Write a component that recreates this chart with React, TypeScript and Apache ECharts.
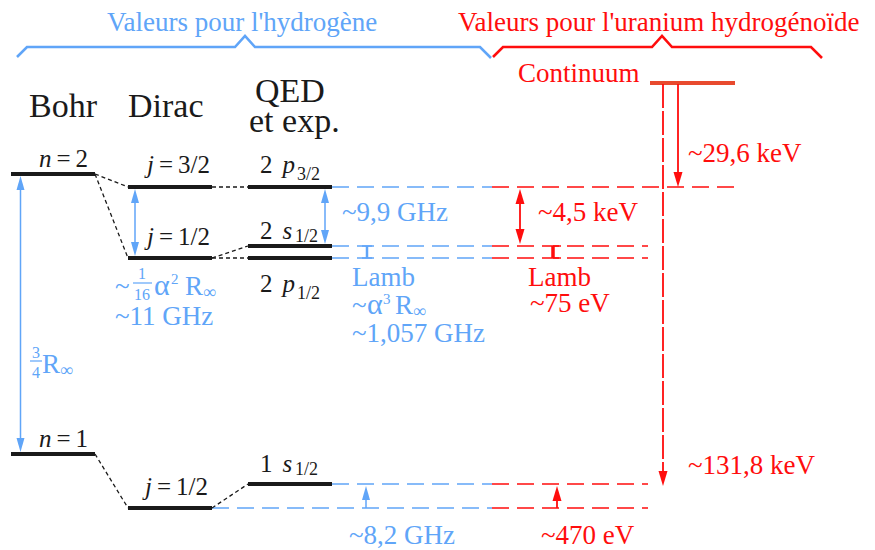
import React, { useEffect, useRef } from "react";
import * as echarts from "echarts";

const BLUE = "#60a5f8";
const RED = "#ff0d0d";
const BLACK = "#1a1a1a";
const CONT = "#e84a2e";
const SERIF = "Liberation Serif, Times New Roman, serif";

// Column headers
const headerText = ["Bohr", "Dirac", "QED", "et exp."];
const headerX = [29, 128, 255, 249];
const headerBase = [117, 117, 102, 132];

// Group titles and braces
const titleText = ["Valeurs pour l'hydrogène", "Valeurs pour l'uranium hydrogénoïde"];
const titleX = [107, 458];
const titleBase = [31, 31];
const titleColor = ["b", "r"];
const braceStart = [17, 493];
const bracePeak = [245, 662];
const braceEnd = [491, 822];
const braceY = [47, 47];

// Energy levels
const levelNames = ["n=2", "n=1", "j=3/2", "j=1/2", "j=1/2", "2 p", "2 s", "2 p", "1 s"];
const levelSub = ["", "", "", "", "", "3/2", "1/2", "1/2", "1/2"];
const levelStart = [11, 11, 128, 128, 128, 248, 248, 248, 248];
const levelEnd = [95, 95, 212, 212, 212, 332, 332, 332, 332];
const levelY = [174, 454, 187, 258, 508, 187, 246, 258, 484];
const labelX = [39, 39, 147, 147, 145, 260, 260, 260, 260];
const labelBase = [167, 447, 173, 245, 495, 173, 239, 292, 472];
const subX = [0, 0, 0, 0, 0, 297, 295, 297, 295];
const subBase = [0, 0, 0, 0, 0, 180, 242, 299, 475];

// Dotted connectors (right end of level a -> left end of level b)
const connectFrom = [0, 0, 2, 3, 3, 1, 4];
const connectTo = [2, 3, 5, 6, 7, 4, 8];

// Dashed extensions (hydrogen part in blue, uranium part in red)
const extY = [187, 246, 258, 484, 508];
const extStart = [332, 332, 332, 332, 212];
const extSplit = [492, 492, 492, 492, 492];
const extEnd = [735, 648, 648, 648, 648];

// Continuum level
const contStart = 650;
const contEnd = 735;
const contY = 83;

// Arrows
const arrowX = [20.5, 135, 325, 520, 366, 557, 678, 663];
const arrowFrom = [176, 189, 189, 189, 508, 508, 84, 84];
const arrowTo = [452, 256, 244, 244, 486, 486, 187, 486];
const arrowBoth = [1, 1, 1, 1, 0, 0, 0, 0];
const arrowColor = ["b", "b", "b", "r", "b", "r", "r", "r"];
const arrowDashed = [0, 0, 0, 0, 0, 0, 0, 1];

// Lamb shift markers
const lambX = [367, 553];
const lambTop = [246, 246];
const lambBottom = [258, 258];
const lambColor = ["b", "r"];

// Annotations
const annText = ["~9,9 GHz", "Lamb", "~1,057 GHz", "~11 GHz", "~8,2 GHz", "~29,6 keV", "~4,5 keV", "Lamb", "~75 eV", "~131,8 keV", "~470 eV", "Continuum"];
const annX = [342, 352, 352, 115, 349, 688, 538, 528, 530, 688, 541, 518];
const annBase = [221, 286, 342, 325, 544, 162, 221, 286, 312, 474, 544, 82];
const annColor = ["b", "b", "b", "b", "b", "r", "r", "r", "r", "r", "r", "r"];

// Formula pieces (~1/16 α² R∞, ~α³ R∞, 3/4 R∞)
const formText = ["~", "1", "16", "α", "2", "R", "∞", "~", "α", "3", "R", "∞", "3", "4", "R", "∞"];
const formX = [115, 142, 142, 154, 171, 185, 203, 352, 367, 383, 395, 413, 36, 36, 42, 60];
const formBase = [295, 279, 300, 295, 284, 295, 298, 314, 314, 304, 314, 317, 358, 378, 373, 376];
const formKind = ["m", "f", "f", "a", "p", "m", "i", "m", "a", "p", "m", "i", "f", "f", "m", "i"];
const fracX1 = [133, 30];
const fracX2 = [152, 42];
const fracY = [283, 361];

const col = (k: string) => (k === "r" ? RED : k === "k" ? BLACK : BLUE);

type Item = { text: string; x: number; b: number; size: number; fill: string; align?: string; rich?: boolean };

function toRich(label: string) {
  const m = label.match(/^([nj])=(.*)$/);
  if (m) return `{i|${m[1]}}{r|\u2009=\u2009${m[2]}}`;
  const m2 = label.match(/^(\d) ([ps])$/);
  if (m2) return `{r|${m2[1]}}{ip|${m2[2]}}`;
  return `{r|${label}}`;
}

function buildItems(): Item[] {
  const items: Item[] = [];
  headerText.forEach((t, i) => items.push({ text: t, x: headerX[i], b: headerBase[i], size: 34, fill: BLACK }));
  titleText.forEach((t, i) => items.push({ text: t, x: titleX[i], b: titleBase[i], size: 27, fill: col(titleColor[i]) }));
  annText.forEach((t, i) => items.push({ text: t, x: annX[i], b: annBase[i], size: 27, fill: col(annColor[i]) }));
  levelNames.forEach((t, i) => {
    items.push({ text: toRich(t), x: labelX[i], b: labelBase[i], size: 25, fill: BLACK, rich: true });
    if (levelSub[i]) items.push({ text: levelSub[i], x: subX[i], b: subBase[i], size: 18, fill: BLACK });
  });
  const sizes: Record<string, number> = { m: 27, a: 30, f: 16, p: 15, i: 18 };
  formText.forEach((t, i) =>
    items.push({ text: t, x: formX[i], b: formBase[i], size: sizes[formKind[i]], fill: BLUE, align: formKind[i] === "f" ? "center" : "left" })
  );
  return items;
}

function buildOption(): any {
  const items = buildItems();
  const lineEl = (a: number[], b: number[], stroke: string, lineWidth: number, dash?: number[]) => ({
    type: "line",
    shape: { x1: a[0], y1: a[1], x2: b[0], y2: b[1] },
    style: { stroke, lineWidth, lineDash: dash || null },
  });
  const base = { type: "custom", coordinateSystem: "cartesian2d", silent: true, clip: false };
  return {
    animation: false,
    textStyle: { fontFamily: SERIF },
    grid: { left: 0, right: 0, top: 0, bottom: 0 },
    xAxis: { type: "value", min: 0, max: 875, show: false },
    yAxis: { type: "value", min: 0, max: 550, inverse: true, show: false },
    series: [
      {
        ...base,
        name: "braces",
        data: braceStart.map((x, i) => [x, braceY[i]]),
        renderItem: (p: any, api: any) => {
          const i = p.dataIndex;
          const y = braceY[i];
          const pts = [
            [braceStart[i], y + 10],
            [braceStart[i] + 10, y],
            [bracePeak[i] - 10, y],
            [bracePeak[i], y - 11],
            [bracePeak[i] + 10, y],
            [braceEnd[i] - 11, y],
            [braceEnd[i], y + 11],
          ].map((q) => api.coord(q));
          return { type: "polyline", shape: { points: pts }, style: { stroke: col(titleColor[i]), lineWidth: 2.6, fill: null } };
        },
      },
      {
        ...base,
        name: "extensions",
        data: extY.map((y, i) => [extStart[i], y]),
        renderItem: (p: any, api: any) => {
          const i = p.dataIndex;
          const a = api.coord([extStart[i], extY[i]]);
          const m = api.coord([extSplit[i], extY[i]]);
          const b = api.coord([extEnd[i], extY[i]]);
          return {
            type: "group",
            children: [lineEl(a, m, BLUE, 1.5, [17, 8]), lineEl(m, b, RED, 1.5, [17, 8])],
          };
        },
      },
      {
        ...base,
        name: "connectors",
        data: connectFrom.map((f) => [levelEnd[f], levelY[f]]),
        renderItem: (p: any, api: any) => {
          const i = p.dataIndex;
          const f = connectFrom[i];
          const t = connectTo[i];
          return lineEl(api.coord([levelEnd[f], levelY[f]]), api.coord([levelStart[t], levelY[t]]), BLACK, 1.3, [4, 3]);
        },
      },
      {
        ...base,
        name: "levels",
        data: levelY.map((y, i) => [levelStart[i], y]),
        renderItem: (p: any, api: any) => {
          const i = p.dataIndex;
          return lineEl(api.coord([levelStart[i], levelY[i]]), api.coord([levelEnd[i], levelY[i]]), BLACK, 4);
        },
      },
      {
        ...base,
        name: "continuum",
        data: [[contStart, contY]],
        renderItem: (p: any, api: any) => lineEl(api.coord([contStart, contY]), api.coord([contEnd, contY]), CONT, 4),
      },
      {
        ...base,
        name: "arrows",
        data: arrowX.map((x, i) => [x, arrowFrom[i]]),
        renderItem: (p: any, api: any) => {
          const i = p.dataIndex;
          const a = api.coord([arrowX[i], arrowFrom[i]]);
          const b = api.coord([arrowX[i], arrowTo[i]]);
          const c = col(arrowColor[i]);
          const w = arrowColor[i] === "r" ? 9 : 8;
          const L = arrowColor[i] === "r" ? 15 : 14;
          const dir = Math.sign(b[1] - a[1]);
          const head = (tip: number[], d: number) => ({
            type: "polygon",
            shape: { points: [[tip[0], tip[1]], [tip[0] - w / 2, tip[1] - d * L], [tip[0] + w / 2, tip[1] - d * L]] },
            style: { fill: c },
          });
          const children: any[] = [
            lineEl(
              [a[0], a[1] + (arrowBoth[i] ? dir * L * 0.7 : 0)],
              [b[0], b[1] - dir * L * 0.7],
              c,
              arrowColor[i] === "r" ? 1.8 : 1.5,
              arrowDashed[i] ? [24, 3] : undefined
            ),
            head(b, dir),
          ];
          if (arrowBoth[i]) children.push(head(a, -dir));
          return { type: "group", children };
        },
      },
      {
        ...base,
        name: "lamb",
        data: lambX.map((x, i) => [x, lambTop[i]]),
        renderItem: (p: any, api: any) => {
          const i = p.dataIndex;
          const a = api.coord([lambX[i], lambTop[i]]);
          const b = api.coord([lambX[i], lambBottom[i]]);
          const c = col(lambColor[i]);
          if (lambColor[i] === "b") {
            return {
              type: "group",
              children: [
                lineEl(a, b, c, 2.5),
                lineEl([a[0] - 5, a[1]], [a[0] + 5, a[1]], c, 1.5),
                lineEl([b[0] - 5, b[1]], [b[0] + 5, b[1]], c, 1.5),
              ],
            };
          }
          return {
            type: "group",
            children: [
              lineEl(a, b, c, 3.5),
              lineEl([a[0], a[1]], [a[0] + 8, a[1]], c, 1.5),
              lineEl([b[0], b[1]], [b[0] + 8, b[1]], c, 1.5),
            ],
          };
        },
      },
      {
        ...base,
        name: "fractions",
        data: fracX1.map((x, i) => [x, fracY[i]]),
        renderItem: (p: any, api: any) => {
          const i = p.dataIndex;
          return lineEl(api.coord([fracX1[i], fracY[i]]), api.coord([fracX2[i], fracY[i]]), BLUE, 1.2);
        },
      },
      {
        ...base,
        name: "texts",
        data: items.map((it) => [it.x, it.b]),
        renderItem: (p: any, api: any) => {
          const it = items[p.dataIndex];
          const q = api.coord([it.x, it.b]);
          const style: any = {
            text: it.text,
            fontSize: it.size,
            fontFamily: SERIF,
            fontStyle: "normal",
            fill: it.fill,
            align: it.align || "left",
            verticalAlign: "middle",
          };
          if (it.rich) {
            const f = { fontSize: it.size, fontFamily: SERIF, fill: it.fill };
            style.rich = {
              i: { ...f, fontStyle: "italic" },
              ip: { ...f, fontStyle: "italic", padding: [0, 0, 0, 10] },
              r: { ...f, fontStyle: "normal" },
            };
          }
          return { type: "text", x: q[0], y: q[1] - 0.34 * it.size, style };
        },
      },
    ],
  };
}

export default function App() {
  const ref = useRef<HTMLDivElement>(null);
  useEffect(() => {
    document.body.style.margin = "0";
    const chart = echarts.init(ref.current as HTMLDivElement, undefined, { renderer: "svg" });
    chart.setOption(buildOption());
    return () => chart.dispose();
  }, []);
  return <div ref={ref} style={{ width: 875, height: 550 }} />;
}
